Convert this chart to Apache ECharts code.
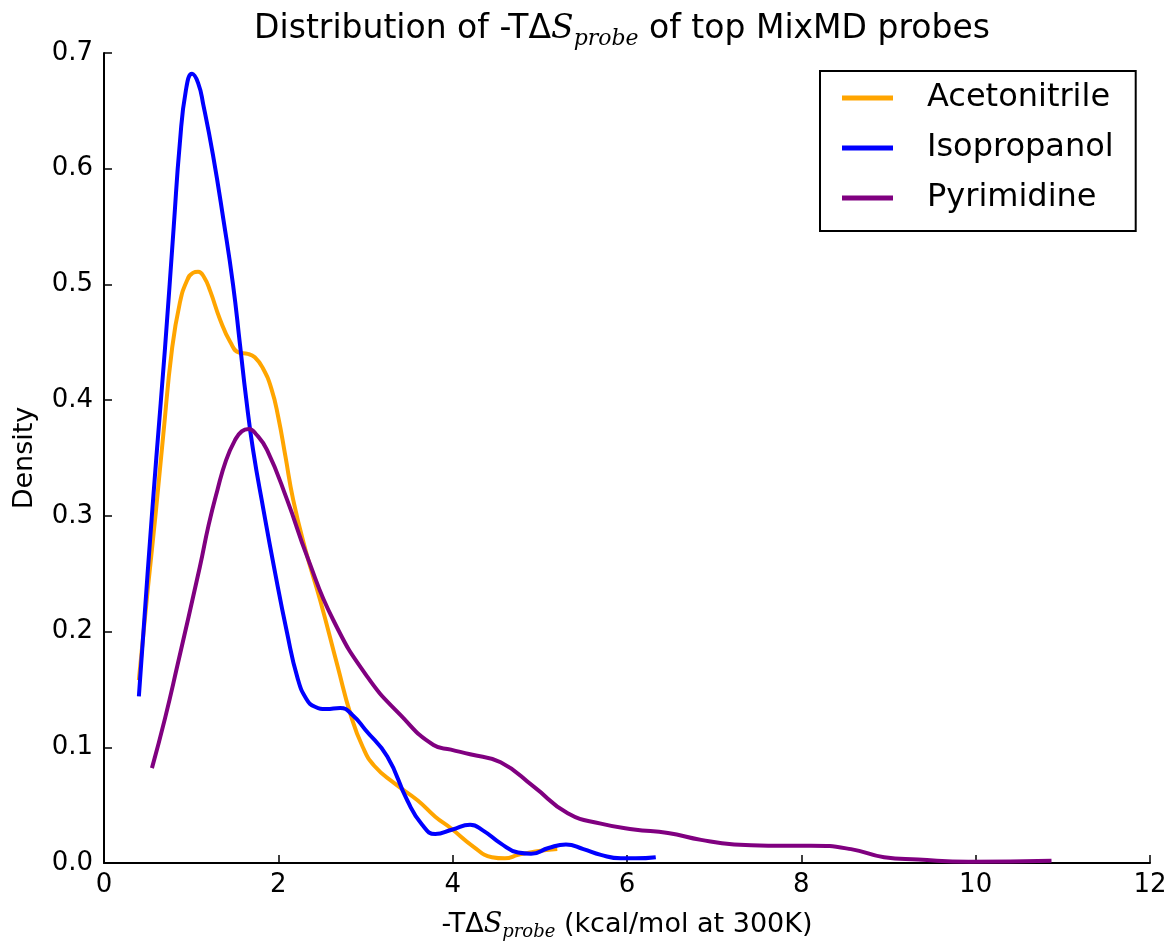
<!DOCTYPE html>
<html>
<head>
<meta charset="UTF-8">
<title>Distribution of -TΔS probe</title>
<script src="https://cdn.jsdelivr.net/npm/echarts@6/dist/echarts.min.js"></script>
<style>
  html, body { margin: 0; padding: 0; background: #fff; }
</style>
</head>
<body>
<div id="main" style="width: 1170px;height:945px;"></div>
<script type="text/javascript">
  // 读图得到的数据 [x, density]
  var seriesNames = ['Acetonitrile', 'Isopropanol', 'Pyrimidine'];
  var seriesColors = ['#FFA500', '#0000FF', '#800080'];

  var acetonitrile = [
    [0.40, 0.158], [0.50, 0.235], [0.59, 0.30], [0.68, 0.37], [0.78, 0.444], [0.87, 0.484],
    [0.95, 0.503], [1.02, 0.510], [1.08, 0.511], [1.15, 0.506], [1.22, 0.494], [1.33, 0.470],
    [1.45, 0.450], [1.55, 0.441], [1.65, 0.440], [1.73, 0.437], [1.82, 0.428], [1.92, 0.410],
    [2.00, 0.385], [2.08, 0.352], [2.17, 0.314], [2.31, 0.271], [2.48, 0.227], [2.68, 0.170],
    [2.83, 0.128], [2.97, 0.100], [3.10, 0.084], [3.33, 0.069], [3.60, 0.054], [3.80, 0.040],
    [3.98, 0.030], [4.24, 0.014], [4.45, 0.005], [4.60, 0.004], [4.75, 0.007], [4.95, 0.010],
    [5.20, 0.012]
  ];
  var isopropanol = [
    [0.40, 0.144], [0.50, 0.25], [0.60, 0.35], [0.70, 0.445], [0.80, 0.55], [0.87, 0.622],
    [0.94, 0.668], [1.01, 0.682], [1.08, 0.674], [1.14, 0.655], [1.25, 0.612], [1.37, 0.556],
    [1.48, 0.500], [1.56, 0.448], [1.63, 0.402], [1.71, 0.357], [1.83, 0.305], [1.95, 0.256],
    [2.10, 0.199], [2.22, 0.160], [2.32, 0.142], [2.42, 0.135], [2.55, 0.133], [2.71, 0.134],
    [2.85, 0.128], [3.00, 0.115], [3.25, 0.092], [3.48, 0.054], [3.65, 0.033], [3.80, 0.025],
    [4.00, 0.029], [4.20, 0.033], [4.35, 0.028], [4.55, 0.017], [4.75, 0.009], [4.90, 0.008],
    [5.10, 0.013], [5.30, 0.016], [5.50, 0.012], [5.70, 0.007], [5.93, 0.004], [6.10, 0.004],
    [6.33, 0.005]
  ];
  var pyrimidine = [
    [0.55, 0.082], [0.70, 0.125], [0.84, 0.17], [1.10, 0.256], [1.20, 0.292], [1.30, 0.322],
    [1.40, 0.348], [1.50, 0.365], [1.58, 0.373], [1.66, 0.375], [1.74, 0.371], [1.87, 0.357],
    [2.10, 0.314], [2.33, 0.265], [2.63, 0.210], [3.02, 0.161], [3.40, 0.128], [3.78, 0.102],
    [3.98, 0.098], [4.20, 0.094], [4.55, 0.087], [4.93, 0.066], [5.32, 0.043], [5.70, 0.034],
    [6.08, 0.029], [6.47, 0.026], [6.85, 0.020], [7.23, 0.016], [7.62, 0.015], [8.11, 0.015],
    [8.57, 0.012], [8.95, 0.005], [9.34, 0.003], [9.92, 0.001], [10.87, 0.002]
  ];
  var seriesData = [acetonitrile, isopropanol, pyrimidine];

  var xMin = 0, xMax = 12, xStep = 2;
  var yMin = 0, yMax = 0.7, yStep = 0.1;

  var font = 'DejaVu Sans';
  var mathRich = function (size) {
    return {
      n: { fontFamily: font, fontWeight: 'normal', fontSize: size, color: '#000', lineHeight: size + 6, verticalAlign: 'top' },
      s: { fontFamily: 'DejaVu Serif', fontWeight: 'normal', fontStyle: 'italic', fontSize: size, color: '#000', lineHeight: size + 6, verticalAlign: 'top' },
      sub: { fontFamily: 'DejaVu Serif', fontWeight: 'normal', fontStyle: 'italic', fontSize: Math.round(size * 0.68), color: '#000',
        lineHeight: Math.round(size * 0.68) + 2, verticalAlign: 'top', padding: [Math.round(size * 0.45), 0, 0, 0] }
    };
  };

  var myChart = echarts.init(document.getElementById('main'));
  var series = [];
  for (var i = 0; i < seriesNames.length; i++) {
    series.push({
      name: seriesNames[i],
      type: 'line',
      data: seriesData[i],
      smooth: 0.5,
      showSymbol: false,
      color: seriesColors[i],
      lineStyle: { width: 4, color: seriesColors[i] }
    });
  }

  var option = {
    animation: false,
    backgroundColor: '#fff',
    title: {
      text: '{n|Distribution of -TΔ}{s|S}{sub|probe}{n| of top MixMD probes}',
      left: 622,
      top: 13,
      padding: 0,
      textAlign: 'center',
      textStyle: { fontWeight: 'normal', rich: mathRich(33) }
    },
    legend: {
      orient: 'vertical',
      left: 820,
      top: 71,
      padding: [10, 22, 16, 22],
      borderColor: '#000',
      borderWidth: 2,
      backgroundColor: '#fff',
      itemWidth: 51,
      itemHeight: 5,
      itemGap: 16,
      icon: 'rect',
      textStyle: { fontFamily: font, fontSize: 32, color: '#000', lineHeight: 34, padding: [0, 0, 0, 29] },
      data: seriesNames
    },
    grid: {
      left: 104,
      right: 20,
      top: 53,
      bottom: 82,
      containLabel: false,
      outerBoundsMode: 'none'
    },
    xAxis: {
      type: 'value',
      min: xMin,
      max: xMax,
      interval: xStep,
      name: '{n|-TΔ}{s|S}{sub|probe}{n| (kcal/mol at 300K)}',
      nameLocation: 'middle',
      nameGap: 48,
      nameTextStyle: { rich: mathRich(27) },
      axisLine: { lineStyle: { color: '#000', width: 2 } },
      axisTick: { inside: true, length: 8, lineStyle: { color: '#000', width: 1.5 } },
      axisLabel: { fontFamily: font, fontSize: 26, color: '#000', margin: 9 },
      splitLine: { show: false }
    },
    yAxis: {
      type: 'value',
      min: yMin,
      max: yMax,
      interval: yStep,
      name: 'Density',
      nameLocation: 'middle',
      nameRotate: 90,
      nameGap: 66,
      nameTextStyle: { fontFamily: font, fontSize: 27, color: '#000' },
      axisLine: { lineStyle: { color: '#000', width: 2 } },
      axisTick: { inside: true, length: 8, lineStyle: { color: '#000', width: 1.5 } },
      axisLabel: {
        fontFamily: font, fontSize: 26, color: '#000', margin: 11,
        formatter: function (v) { return v.toFixed(1); }
      },
      splitLine: { show: false }
    },
    series: series
  };
  myChart.setOption(option);
</script>
</body>
</html>
